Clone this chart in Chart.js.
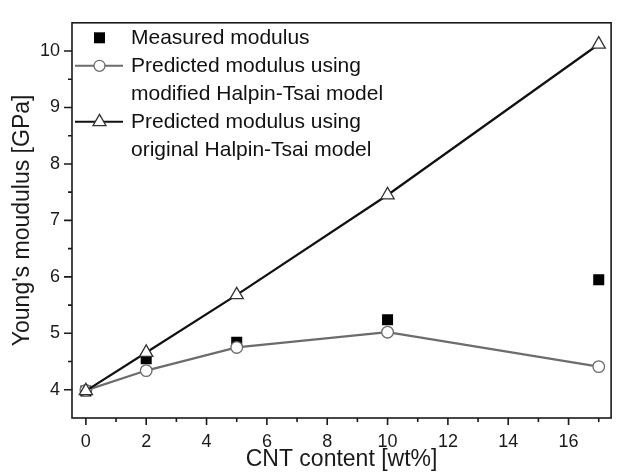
<!DOCTYPE html>
<html>
<head>
<meta charset="utf-8">
<script src="https://cdn.jsdelivr.net/npm/chart.js@4.4.1/dist/chart.umd.min.js"></script>
<style>
  html, body { margin: 0; padding: 0; background: #fff; }
  #wrap { width: 620px; height: 472px; }
</style>
</head>
<body>
<div id="wrap"><canvas id="chart" width="620" height="472"></canvas></div>
<script>
// CNT content [wt%]
const cntContent = [0, 2, 5, 10, 17];

// Young's modulus [GPa]
const measuredModulus = [3.98, 4.55, 4.84, 5.24, 5.95];
const modifiedHalpinTsai = [3.99, 4.34, 4.75, 5.02, 4.41];
const originalHalpinTsai = [3.98, 4.66, 5.68, 7.45, 10.12];

// axis ticks
const xMajorTicks = [0, 2, 4, 6, 8, 10, 12, 14, 16];
const xMinorTicks = [1, 3, 5, 7, 9, 11, 13, 15, 17];
const yMajorTicks = [4, 5, 6, 7, 8, 9, 10];
const yMinorTicks = [4.5, 5.5, 6.5, 7.5, 8.5, 9.5];

const legendEntries = [
  { marker: "rect", lines: ["Measured modulus"] },
  { marker: "circle", lines: ["Predicted modulus using", "modified Halpin-Tsai model"] },
  { marker: "triangle", lines: ["Predicted modulus using", "original Halpin-Tsai model"] },
];

const FONT = "'Liberation Sans', Arial, sans-serif";
const AXIS_COLOR = "#1a1a1a";
const GREY = "#6c6c6c";

const toPoints = (values) => cntContent.map((x, i) => ({ x: x, y: values[i] }));

// Draws one legend marker
function drawMarker(ctx, type, x, y) {
  ctx.save();
  ctx.lineWidth = 1.3;
  if (type === "rect") {
    ctx.fillStyle = "#000";
    ctx.fillRect(x - 5.5, y - 5.5, 11, 11);
  } else if (type === "circle") {
    ctx.fillStyle = "#fff";
    ctx.strokeStyle = GREY;
    ctx.beginPath();
    ctx.arc(x, y, 5.5, 0, Math.PI * 2);
    ctx.fill();
    ctx.stroke();
  } else {
    const r = 7.5;
    ctx.fillStyle = "#fff";
    ctx.strokeStyle = "#333";
    ctx.beginPath();
    ctx.moveTo(x, y - r);
    ctx.lineTo(x + r * Math.sin(Math.PI * 2 / 3), y - r * Math.cos(Math.PI * 2 / 3));
    ctx.lineTo(x - r * Math.sin(Math.PI * 2 / 3), y - r * Math.cos(Math.PI * 2 / 3));
    ctx.closePath();
    ctx.fill();
    ctx.stroke();
  }
  ctx.restore();
}

// Frame, major/minor tick marks and the inset legend
const framePlugin = {
  id: "frame",
  afterDraw(chart) {
    const { ctx, chartArea, scales } = chart;
    ctx.save();
    ctx.strokeStyle = AXIS_COLOR;
    ctx.lineWidth = 1.6;
    ctx.strokeRect(chartArea.left, chartArea.top, chartArea.right - chartArea.left, chartArea.bottom - chartArea.top);

    ctx.beginPath();
    xMajorTicks.forEach((v) => {
      const px = scales.x.getPixelForValue(v);
      ctx.moveTo(px, chartArea.bottom);
      ctx.lineTo(px, chartArea.bottom + 7);
    });
    xMinorTicks.forEach((v) => {
      const px = scales.x.getPixelForValue(v);
      ctx.moveTo(px, chartArea.bottom);
      ctx.lineTo(px, chartArea.bottom + 4);
    });
    yMajorTicks.forEach((v) => {
      const py = scales.y.getPixelForValue(v);
      ctx.moveTo(chartArea.left, py);
      ctx.lineTo(chartArea.left - 8, py);
    });
    yMinorTicks.forEach((v) => {
      const py = scales.y.getPixelForValue(v);
      ctx.moveTo(chartArea.left, py);
      ctx.lineTo(chartArea.left - 4, py);
    });
    ctx.stroke();

    // legend
    let y = chartArea.top + 15;
    ctx.font = "21px " + FONT;
    ctx.textBaseline = "middle";
    ctx.fillStyle = "#111";
    legendEntries.forEach((entry) => {
      if (entry.marker !== "rect") {
        ctx.beginPath();
        ctx.lineWidth = 2;
        ctx.strokeStyle = entry.marker === "circle" ? GREY : "#111";
        ctx.moveTo(75, y);
        ctx.lineTo(123, y);
        ctx.stroke();
      }
      drawMarker(ctx, entry.marker, 99.5, y);
      entry.lines.forEach((line) => {
        ctx.fillText(line, 131, y);
        y += 28;
      });
    });
    ctx.restore();
  },
};

const ctx = document.getElementById("chart");

new Chart(ctx, {
  type: "scatter",
  data: {
    datasets: [
      {
        label: "Measured modulus",
        data: toPoints(measuredModulus),
        showLine: false,
        pointStyle: "rect",
        pointRadius: 7.8,
        backgroundColor: "#000",
        borderColor: "#000",
        borderWidth: 0,
        order: 3,
      },
      {
        label: "Predicted modulus using modified Halpin-Tsai model",
        data: toPoints(modifiedHalpinTsai),
        showLine: true,
        borderColor: GREY,
        borderWidth: 2.2,
        pointStyle: "circle",
        pointRadius: 5.8,
        pointBackgroundColor: "#fff",
        pointBorderColor: GREY,
        pointBorderWidth: 1.3,
        order: 2,
      },
      {
        label: "Predicted modulus using original Halpin-Tsai model",
        data: toPoints(originalHalpinTsai),
        showLine: true,
        borderColor: "#111",
        borderWidth: 2.2,
        pointStyle: "triangle",
        pointRadius: 7.6,
        pointBackgroundColor: "#fff",
        pointBorderColor: "#333",
        pointBorderWidth: 1.3,
        order: 1,
      },
    ],
  },
  options: {
    responsive: false,
    animation: false,
    devicePixelRatio: 1,
    layout: { padding: { left: 0, right: 2, top: 14, bottom: 0 } },
    plugins: {
      legend: { display: false },
      tooltip: { enabled: false },
    },
    scales: {
      x: {
        type: "linear",
        min: -0.46,
        max: 17.41,
        grid: { display: false, drawTicks: false },
        border: { display: false },
        afterBuildTicks: (scale) => {
          scale.ticks = xMajorTicks.map((v) => ({ value: v }));
        },
        afterFit: (scale) => {
          scale.height = 54;
        },
        ticks: {
          padding: 13,
          color: AXIS_COLOR,
          font: { family: FONT, size: 18 },
          maxRotation: 0,
        },
        title: {
          display: true,
          text: "CNT content [wt%]",
          color: AXIS_COLOR,
          font: { family: FONT, size: 23, lineHeight: 1.1 },
          padding: { top: 0, bottom: 0 },
        },
      },
      y: {
        type: "linear",
        min: 3.5,
        max: 10.5,
        grid: { display: false, drawTicks: false },
        border: { display: false },
        afterBuildTicks: (scale) => {
          scale.ticks = yMajorTicks.map((v) => ({ value: v }));
        },
        afterFit: (scale) => {
          scale.width = 72;
        },
        ticks: {
          padding: 12,
          color: AXIS_COLOR,
          font: { family: FONT, size: 18 },
        },
        title: {
          display: true,
          text: "Young's moudulus [GPa]",
          color: AXIS_COLOR,
          font: { family: FONT, size: 23, lineHeight: 1.2 },
          padding: { top: 9, bottom: 0 },
        },
      },
    },
  },
  plugins: [framePlugin],
});
</script>
</body>
</html>
